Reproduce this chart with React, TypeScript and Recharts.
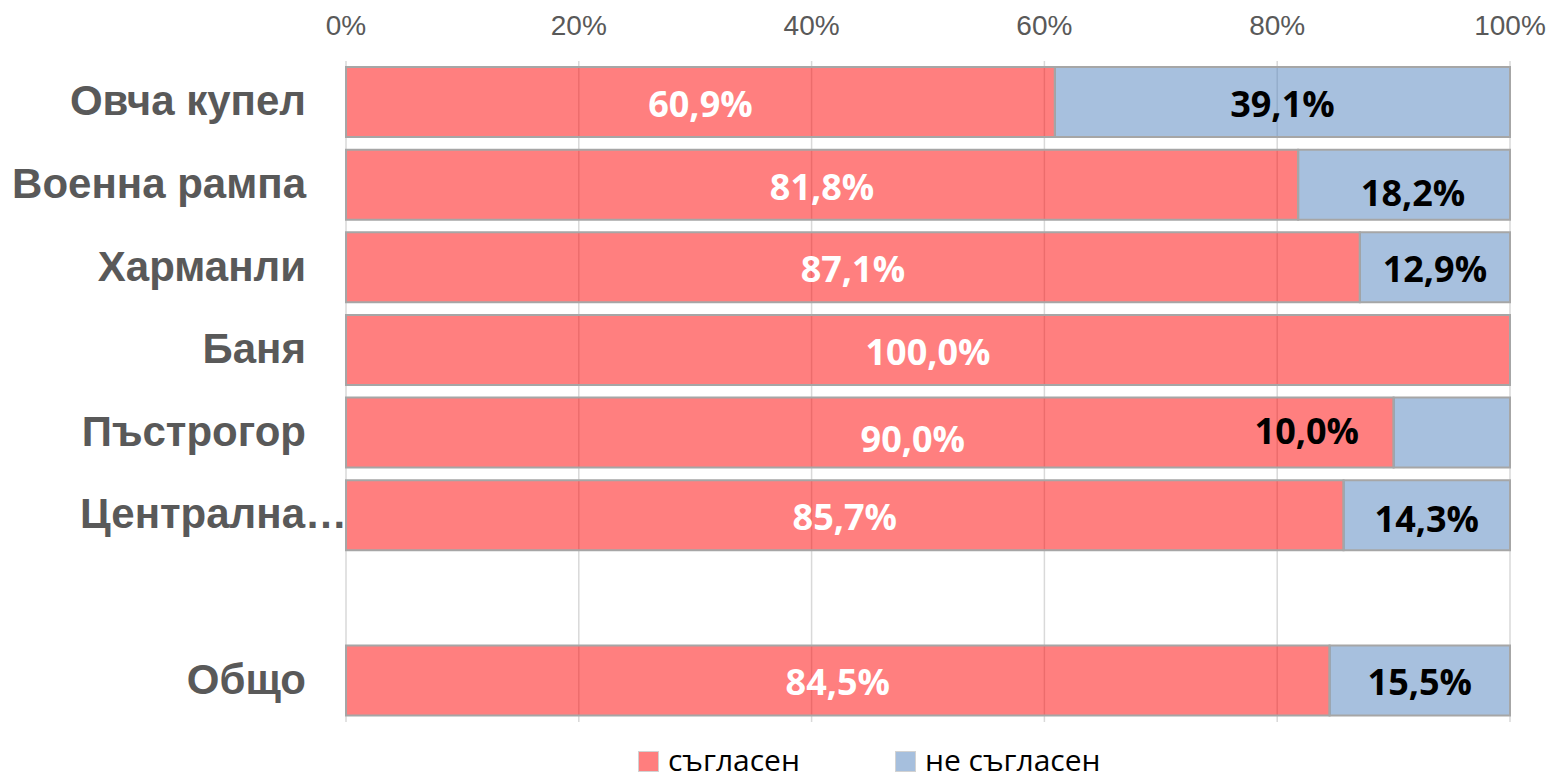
import { BarChart, Bar, XAxis, YAxis, CartesianGrid, LabelList } from 'recharts'

const categories = ['Овча купел', 'Военна рампа', 'Харманли', 'Баня', 'Пъстрогор', 'Централна…', '', 'Общо']
const agree = [0.609, 0.818, 0.871, 1.0, 0.9, 0.857, null, 0.845]
const disagree = [0.391, 0.182, 0.129, 0, 0.1, 0.143, null, 0.155]
const xTicks = [0, 0.2, 0.4, 0.6, 0.8, 1]
const seriesNames = ['съгласен', 'не съгласен']

// label nudges (dx, dy) where the original labels were dragged by hand
const agreeNudge: Record<string, [number, number]> = { 'Пъстрогор': [43, 4] }
const disagreeNudge: Record<string, [number, number]> = {
  'Военна рампа': [9, 6],
  'Пъстрогор': [-145, -4],
  'Централна…': [0, 2],
}

const data = categories.map((name, i) => ({ name, agree: agree[i], disagree: disagree[i] }))

const W = 1552
const H = 780
const PLOT_LEFT = 346
const AXIS_GRAY = '#595959'
const BORDER = '#A6A6A6'
const RED = '#FF0000'
const BLUE = '#4F81BD'

const pct = (v: number) => (v * 100).toFixed(1).replace('.', ',') + '%'

const XTick = (props: any) => {
  const { x, payload } = props
  return (
    <text x={x} y={35} textAnchor="middle" fill={AXIS_GRAY} fontSize={28} fontFamily="'Liberation Sans', Arial, sans-serif">
      {Math.round(payload.value * 100)}%
    </text>
  )
}

const YTick = (props: any) => {
  const { y, payload } = props
  const truncated = String(payload.value).endsWith('…')
  return (
    <text
      x={truncated ? PLOT_LEFT + 1 : PLOT_LEFT - 40}
      y={y + 13}
      textAnchor="end"
      fill={AXIS_GRAY}
      fontSize={42}
      fontWeight={700}
      fontFamily="'Liberation Sans', Arial, sans-serif"
    >
      {payload.value}
    </text>
  )
}

const makeLabel = (color: string, values: (number | null)[], nudge: Record<string, [number, number]>) => (props: any) => {
  const { x, y, width, height, value } = props
  const idx = categories.indexOf(value)
  const v = idx >= 0 ? values[idx] : null
  if (!v) return null
  const [dx, dy] = nudge[value] ?? [0, 0]
  return (
    <text
      x={x + width / 2 + dx}
      y={y + height / 2 + 15 + dy}
      textAnchor="middle"
      fill={color}
      fontSize={36}
      fontWeight={700}
      fontFamily="'Open Sans', sans-serif"
    >
      {pct(v)}
    </text>
  )
}

const LegendItem = ({ color, label, gap }: { color: string; label: string; gap: number }) => (
  <div style={{ display: 'flex', alignItems: 'center', marginRight: gap }}>
    <div
      style={{
        width: 19,
        height: 19,
        background: color,
        opacity: 0.5,
        border: `1px solid ${BORDER}`,
        marginRight: 9,
        marginTop: 4,
      }}
    />
    <span style={{ fontFamily: "'Open Sans', sans-serif", fontSize: 30, color: '#000', lineHeight: '24px' }}>{label}</span>
  </div>
)

export default function App() {
  return (
    <div style={{ position: 'absolute', left: 0, top: 0, width: W, height: H, background: '#fff', overflow: 'hidden' }}>
      <BarChart
        width={W}
        height={H}
        data={data}
        layout="vertical"
        margin={{ top: 0, right: W - 1510, bottom: 58, left: 0 }}
      >
        <CartesianGrid horizontal={false} stroke="#D9D9D9" strokeWidth={1.5} />
        <XAxis
          type="number"
          orientation="top"
          domain={[0, 1]}
          ticks={xTicks}
          height={61}
          axisLine={false}
          tickLine={false}
          tick={<XTick />}
        />
        <YAxis
          type="category"
          dataKey="name"
          width={PLOT_LEFT}
          axisLine={false}
          tickLine={false}
          tick={<YTick />}
          interval={0}
        />
        <Bar dataKey="agree" stackId="a" barSize={70} fill={RED} fillOpacity={0.5} stroke={BORDER} strokeWidth={2} isAnimationActive={false}>
          <LabelList dataKey="name" content={makeLabel('#fff', agree, agreeNudge)} />
        </Bar>
        <Bar dataKey="disagree" stackId="a" barSize={70} fill={BLUE} fillOpacity={0.5} stroke={BORDER} strokeWidth={2} isAnimationActive={false}>
          <LabelList dataKey="name" content={makeLabel('#000', disagree, disagreeNudge)} />
        </Bar>
      </BarChart>
      <div style={{ position: 'absolute', left: 638, top: 747, display: 'flex', alignItems: 'center' }}>
        <LegendItem color={RED} label={seriesNames[0]} gap={95} />
        <LegendItem color={BLUE} label={seriesNames[1]} gap={0} />
      </div>
    </div>
  )
}
